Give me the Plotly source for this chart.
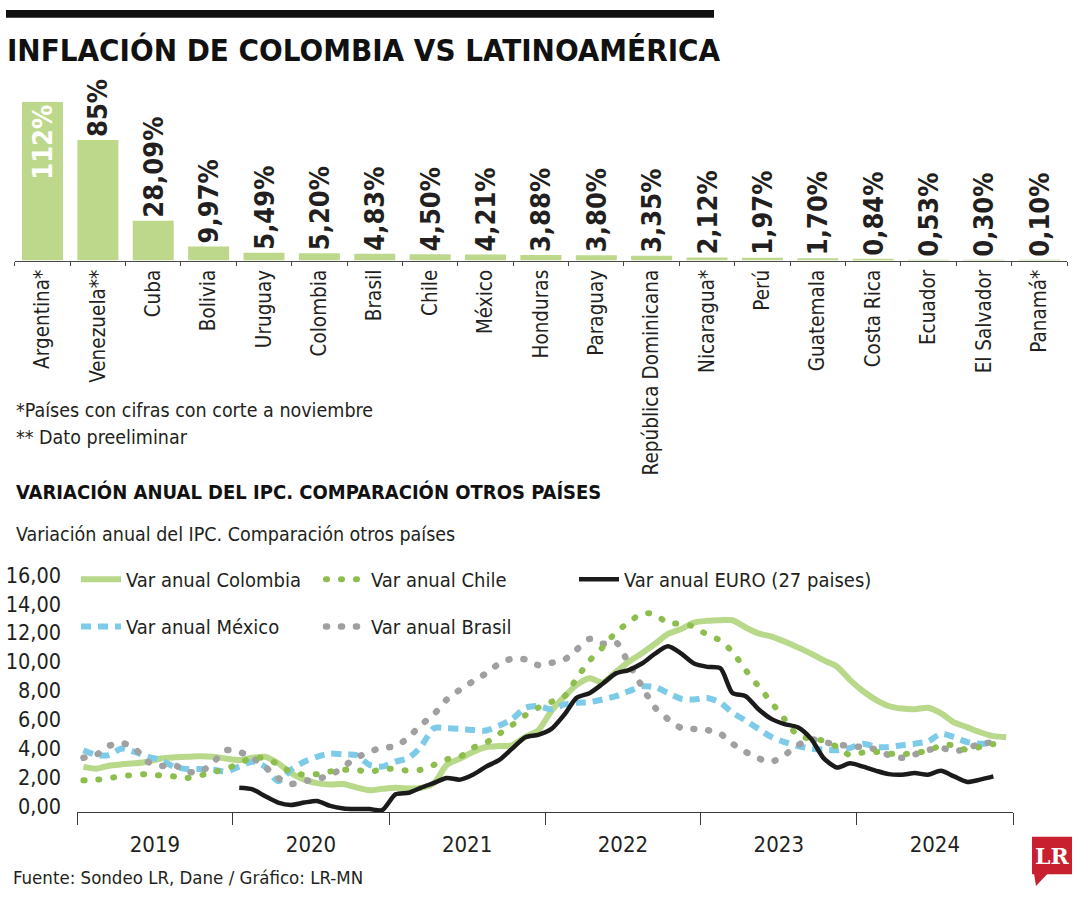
import pandas as pd
import plotly.graph_objects as go

W, H = 1080, 900
FONT = "DejaVu Sans Condensed, DejaVu Sans, sans-serif"
INK = "#231f20"


def px(x):
    return x / W


def py(y):
    return 1 - y / H


# ---------------- bar chart data ----------------
countries = ["Argentina*", "Venezuela**", "Cuba", "Bolivia", "Uruguay", "Colombia",
             "Brasil", "Chile", "México", "Honduras", "Paraguay", "República Dominicana",
             "Nicaragua*", "Perú", "Guatemala", "Costa Rica", "Ecuador", "El Salvador",
             "Panamá*"]
inflation = [112, 85, 28.09, 9.97, 5.49, 5.20, 4.83, 4.50, 4.21, 3.88, 3.80, 3.35,
             2.12, 1.97, 1.70, 0.84, 0.53, 0.30, 0.10]


def pct(v):
    if v >= 50:
        return f"{v:.0f}%"
    return f"{v:.2f}".replace(".", ",") + "%"


bar_labels = [pct(v) for v in inflation]

# ---------------- line chart data (monthly, annual variation %) ----------------
months = pd.date_range("2019-01-01", periods=72, freq="MS") + pd.Timedelta(days=15)

colombia = [2.72, 2.60, 2.80, 2.90, 2.97, 3.08, 3.30, 3.38, 3.42, 3.45, 3.42, 3.30,
            3.20, 3.35, 3.42, 2.97, 2.30, 1.84, 1.60, 1.50, 1.54, 1.30, 1.10, 1.20,
            1.28, 1.22, 1.27, 1.60, 2.86, 3.30, 3.76, 4.10, 4.17, 4.22, 4.80, 5.24,
            6.60, 7.60, 8.40, 8.86, 8.57, 9.30, 10.00, 10.60, 11.25, 11.93, 12.27, 12.72,
            12.84, 12.88, 12.88, 12.38, 11.97, 11.75, 11.40, 11.00, 10.57, 10.10, 9.66, 8.75,
            7.96, 7.35, 6.94, 6.76, 6.71, 6.82, 6.44, 5.80, 5.46, 5.12, 4.85, 4.78]

chile = [1.79, 1.83, 1.95, 2.06, 2.18, 2.22, 2.13, 2.06, 1.95, 2.13, 2.36, 2.58,
         2.97, 3.35, 3.31, 2.90, 2.36, 2.18, 2.22, 2.40, 2.52, 2.52, 2.36, 2.58,
         2.58, 2.45, 2.52, 2.86, 3.24, 3.42, 4.04, 4.40, 5.01, 5.62, 6.30, 6.82,
         7.23, 7.62, 8.86, 10.10, 11.00, 12.04, 12.72, 13.35, 13.29, 12.67, 12.65, 12.43,
         11.87, 11.47, 10.68, 9.43, 8.30, 7.16, 6.03, 4.90, 4.67, 4.53, 4.10, 3.54,
         3.72, 3.76, 3.65, 3.58, 3.72, 3.81, 4.22, 4.22, 3.88, 4.10, 4.30]

mexico = [3.88, 3.54, 3.54, 3.99, 3.76, 3.42, 3.20, 2.74, 2.58, 2.58, 2.52, 2.40,
          2.74, 3.08, 2.74, 1.72, 2.52, 3.08, 3.42, 3.65, 3.58, 3.54, 2.86, 2.74,
          3.08, 3.35, 4.10, 5.40, 5.40, 5.35, 5.28, 5.24, 5.58, 6.03, 6.82, 6.94,
          6.71, 7.05, 7.16, 7.21, 7.39, 7.62, 7.96, 8.30, 8.25, 7.84, 7.44, 7.39,
          7.50, 7.16, 6.48, 5.92, 5.35, 4.78, 4.44, 4.17, 3.99, 3.92, 3.88, 4.04,
          4.33, 4.10, 4.10, 4.22, 4.33, 4.49, 5.01, 4.78, 4.44, 4.33, 4.33]

brasil = [3.35, 3.58, 4.17, 4.38, 3.99, 3.08, 2.79, 2.86, 2.40, 2.36, 3.04, 3.88,
          3.76, 3.35, 2.74, 1.95, 1.54, 1.72, 1.90, 2.13, 2.74, 3.35, 3.76, 4.06,
          4.14, 4.78, 5.62, 6.37, 7.39, 8.07, 8.64, 9.20, 9.88, 10.22, 10.16, 9.77,
          9.93, 10.16, 10.84, 11.59, 11.25, 11.36, 9.88, 8.30, 6.82, 6.03, 5.42, 5.35,
          5.27, 5.01, 4.33, 3.76, 3.31, 3.08, 3.54, 4.22, 4.63, 4.44, 4.27, 4.17,
          4.08, 3.92, 3.54, 3.35, 3.58, 3.88, 4.04, 3.81, 3.99, 4.33, 4.40]

euro_start = 12  # starts January 2020
euro = [1.27, 1.16, 0.70, 0.25, 0.09, 0.25, 0.36, 0.02, -0.16, -0.20, -0.20, -0.27,
        0.82, 0.93, 1.27, 1.61, 1.95, 1.84, 2.18, 2.74, 3.20, 3.99, 4.78, 4.94,
        5.35, 6.37, 7.50, 7.84, 8.48, 9.20, 9.43, 9.88, 10.57, 11.07, 10.57, 9.88,
        9.65, 9.54, 7.84, 7.62, 6.71, 6.03, 5.69, 5.46, 4.67, 3.31, 2.68, 2.97,
        2.74, 2.45, 2.22, 2.18, 2.29, 2.18, 2.45, 2.06, 1.68, 1.84, 2.06]

y_ticks = [0, 2, 4, 6, 8, 10, 12, 14, 16]

# ---------------- figure ----------------
fig = go.Figure()

fig.add_trace(go.Bar(
    x=countries, y=inflation, xaxis="x", yaxis="y",
    marker=dict(color="#bdd88b", line=dict(width=0)),
    text=bar_labels, textangle=-90,
    textposition=["inside"] + ["outside"] * (len(inflation) - 1),
    insidetextanchor="end",
    insidetextfont=dict(family=FONT, size=27, color="white", weight="bold"),
    outsidetextfont=dict(family=FONT, size=27, color=INK, weight="bold"),
    constraintext="none", cliponaxis=False, showlegend=False,
    width=0.74,
))

SM = 0.7
DOTS = "1px,14px"
fig.add_trace(go.Scatter(
    x=months, y=colombia, xaxis="x2", yaxis="y2", mode="lines",
    name="Var anual Colombia", legend="legend",
    line=dict(color="#b8d88a", width=6, shape="spline", smoothing=SM),
))
fig.add_trace(go.Scatter(
    x=months[:len(mexico)], y=mexico, xaxis="x2", yaxis="y2", mode="lines",
    name="Var anual México", legend="legend2",
    line=dict(color="#7dcbe8", width=6, dash="10px,7px", shape="spline", smoothing=SM),
))
fig.add_trace(go.Scatter(
    x=months[:len(brasil)], y=brasil, xaxis="x2", yaxis="y2", mode="lines",
    name="Var anual Brasil", legend="legend2",
    line=dict(color="#a0a0a0", width=6.5, dash=DOTS, shape="spline", smoothing=SM),
))
fig.add_trace(go.Scatter(
    x=months[:len(chile)], y=chile, xaxis="x2", yaxis="y2", mode="lines",
    name="Var anual Chile", legend="legend",
    line=dict(color="#8dbd4d", width=6, dash=DOTS, shape="spline", smoothing=SM),
))
fig.add_trace(go.Scatter(
    x=months[euro_start:euro_start + len(euro)], y=euro, xaxis="x2", yaxis="y2",
    mode="lines", name="Var anual EURO (27 paises)", legend="legend3",
    line=dict(color="#1b1b1b", width=4.5, shape="spline", smoothing=SM),
))

legend_common = dict(
    orientation="h", xanchor="left", yanchor="middle",
    font=dict(family=FONT, size=20, color=INK),
    bgcolor="rgba(0,0,0,0)", borderwidth=0,
    itemwidth=40, traceorder="normal", itemclick=False,
)

fig.update_layout(
    width=W, height=H, autosize=False,
    margin=dict(l=0, r=0, t=0, b=0, pad=0),
    paper_bgcolor="white", plot_bgcolor="white",
    separators=",.",
    font=dict(family=FONT, color=INK),
    bargap=0.26,
    xaxis=dict(
        domain=[px(14.8), px(1067)], anchor="y", type="category",
        showline=True, linecolor="#4a4a4a", linewidth=1,
        ticks="outside", tickson="boundaries", ticklen=4, tickcolor="#4a4a4a",
        tickangle=-90, tickfont=dict(family=FONT, size=20.5, color=INK),
        showgrid=False, zeroline=False, fixedrange=True,
    ),
    yaxis=dict(
        domain=[py(259), py(98)], anchor="x", range=[0, 112],
        visible=False, fixedrange=True,
    ),
    xaxis2=dict(
        domain=[px(77), px(1013)], anchor="y2", type="date",
        range=["2019-01-01", "2025-01-01"],
        tick0="2019-01-01", dtick="M12", tickformat="%Y", ticklabelmode="period",
        showline=True, linecolor="#3a3a3a", linewidth=1.2,
        ticks="outside", ticklen=12, tickcolor="#3a3a3a", tickwidth=1.2,
        tickfont=dict(family=FONT, size=22, color=INK),
        showgrid=False, zeroline=False, fixedrange=True,
    ),
    yaxis2=dict(
        domain=[py(818), py(570)], anchor="x2", range=[-0.41, 16.54],
        tickvals=y_ticks, tickformat=".2f",
        tickfont=dict(family=FONT, size=21.5, color=INK),
        ticklabelstandoff=15,
        showline=False, showgrid=False, zeroline=False, ticks="", fixedrange=True,
    ),
    legend=dict(x=px(76), y=py(582), entrywidth=190, entrywidthmode="pixels",
                **legend_common),
    legend3=dict(x=px(574), y=py(582), **legend_common),
    legend2=dict(x=px(76), y=py(630), entrywidth=190, entrywidthmode="pixels",
                 **legend_common),
)

annotations = [
    dict(text="INFLACIÓN DE COLOMBIA VS LATINOAMÉRICA", x=px(5), y=py(46),
         font=dict(family=FONT, size=31, color="#111111", weight="bold")),
    dict(text="*Países con cifras con corte a noviembre", x=px(14), y=py(411),
         font=dict(family=FONT, size=19.5, color=INK)),
    dict(text="** Dato preeliminar", x=px(14), y=py(438),
         font=dict(family=FONT, size=19.5, color=INK)),
    dict(text="VARIACIÓN ANUAL DEL IPC. COMPARACIÓN OTROS PAÍSES", x=px(14), y=py(494),
         font=dict(family=FONT, size=20, color="#111111", weight="bold")),
    dict(text="Variación anual del IPC. Comparación otros países", x=px(14), y=py(537),
         font=dict(family=FONT, size=19.5, color=INK)),
    dict(text="Fuente: Sondeo LR, Dane / Gráfico: LR-MN", x=px(11), y=py(884),
         font=dict(family=FONT, size=18.5, color=INK)),
]
for a in annotations:
    a.update(xref="paper", yref="paper", xanchor="left", yanchor="middle",
             showarrow=False)
fig.update_layout(annotations=annotations)

# logo
fig.add_annotation(text="<b>LR</b>", xref="paper", yref="paper", x=px(1052), y=py(862),
                   xanchor="center", yanchor="middle", showarrow=False,
                   font=dict(family="DejaVu Serif, Liberation Serif, serif", size=22,
                             color="white"))

fig.update_layout(shapes=[
    dict(type="rect", xref="paper", yref="paper", x0=px(6), x1=px(714),
         y0=py(13), y1=py(5), fillcolor="#111111", line=dict(width=0), layer="below"),
    dict(type="rect", xref="paper", yref="paper", x0=px(1032), x1=px(1072),
         y0=py(881), y1=py(843), fillcolor="#c8202f", line=dict(width=0), layer="below"),
    dict(type="path", xref="paper", yref="paper",
         path=f"M {px(1034)},{py(880)} L {px(1048)},{py(880)} L {px(1036)},{py(893)} Z",
         fillcolor="#c8202f", line=dict(width=0), layer="below"),
])

# round line caps so the dotted series are drawn as round dots
round_dots = """
var gd = document.getElementById('{plot_id}');
gd.querySelectorAll('path').forEach(function(p) {
  var d = (p.style.strokeDasharray || '').replace(/\\s/g, '');
  if (d.indexOf('1px,14px') === 0) { p.style.strokeLinecap = 'round'; }
});
"""

fig.write_html("out.html", post_script=round_dots)
